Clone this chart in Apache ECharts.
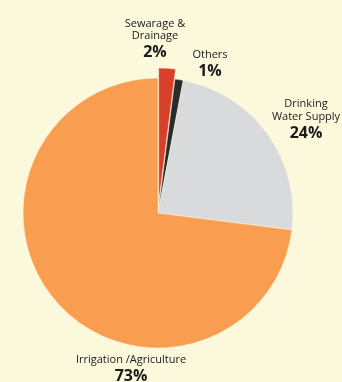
<!DOCTYPE html>
<html>
<head>
<meta charset="utf-8">
<script src="https://cdn.jsdelivr.net/npm/echarts@6/dist/echarts.min.js"></script>
<style>
html,body{margin:0;padding:0;background:#fcf8dc;}
#c{width:342px;height:382px;}
</style>
</head>
<body>
<div id="c"></div>
<script>
const categories = ['Sewarage & Drainage', 'Others', 'Drinking Water Supply', 'Irrigation /Agriculture'];
const nameLines = [['Sewarage &', 'Drainage'], ['Others'], ['Drinking', 'Water Supply'], ['Irrigation /Agriculture']];
const values = [2, 1, 24, 73];
const colors = ['#d9402a', '#2a2b2d', '#d9dadb', '#f99d50'];
const labelPos = [[155, 17.25], [210, 48.25], [306, 97.75], [131, 353.25]];

const rich = {
  n: {fontFamily: 'Open Sans', fontSize: 11, lineHeight: 12.5, fill: '#1a1a1a', align: 'center'},
  p: {fontFamily: 'Open Sans', fontSize: 16, fontWeight: 'bold', lineHeight: 20.5, fill: '#1a1a1a', align: 'center'}
};

const chart = echarts.init(document.getElementById('c'), null, {renderer: 'canvas'});
chart.setOption({
  backgroundColor: '#fcf8dc',
  animation: false,
  graphic: categories.map((c, i) => ({
    type: 'text',
    style: {
      text: nameLines[i].map(l => '{n|' + l + '}').join('\n') + '\n{p|' + values[i] + '%}',
      x: labelPos[i][0],
      y: labelPos[i][1],
      align: 'center',
      verticalAlign: 'top',
      rich: rich
    }
  })),
  series: [{
    type: 'pie',
    center: [158, 213],
    radius: [0, 135],
    startAngle: 90,
    clockwise: true,
    selectedMode: 'single',
    selectedOffset: 10,
    data: categories.map((c, i) => ({
      name: c,
      value: values[i],
      selected: i === 0,
      itemStyle: {color: colors[i]}
    })),
    itemStyle: {borderColor: '#fcf8dc', borderWidth: 0.5},
    labelLine: {show: false},
    label: {show: false},
    emphasis: {disabled: true}
  }]
});
</script>
</body>
</html>
